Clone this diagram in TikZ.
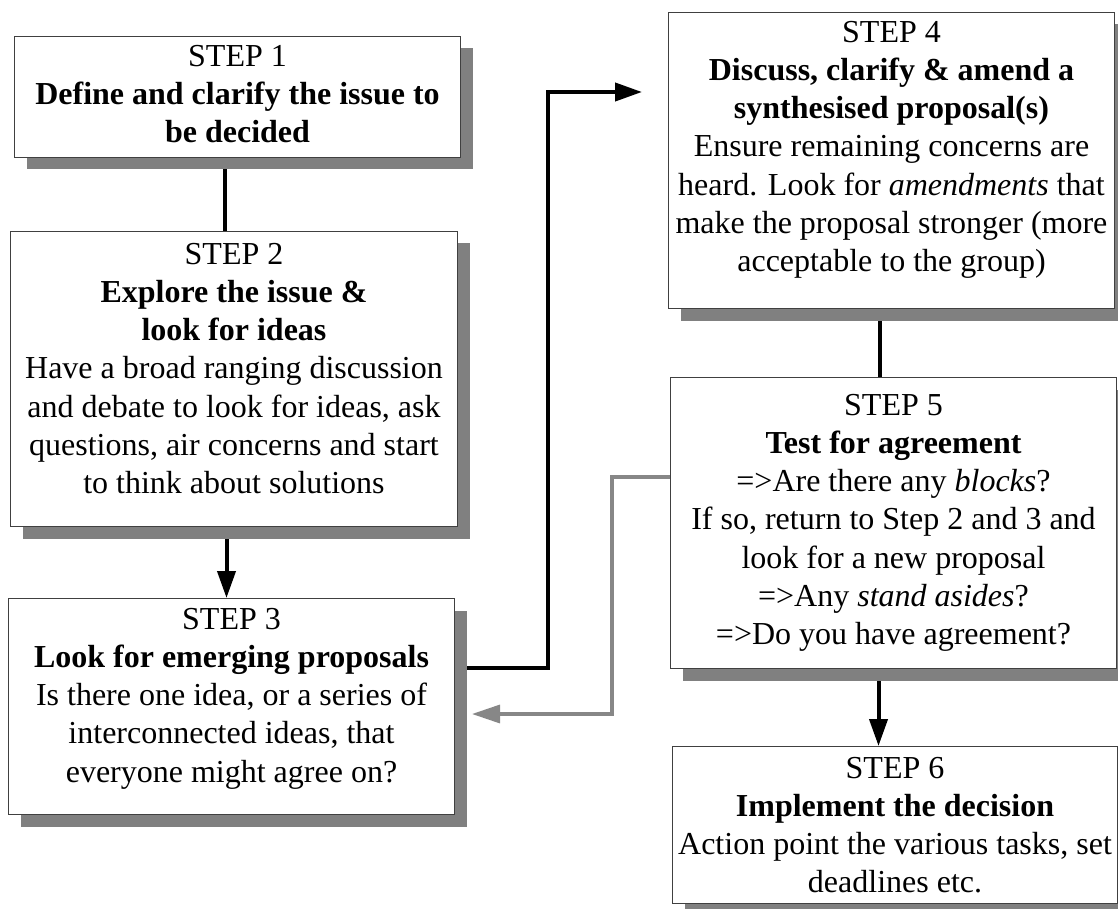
\documentclass[tikz,border=0pt]{standalone}
\usepackage{fontspec}
\setmainfont{Liberation Serif}
\usetikzlibrary{arrows.meta,shadows,backgrounds}
\definecolor{shadegray}{HTML}{808080}
\definecolor{backgray}{HTML}{878787}
\tikzset{
  box/.style={draw=black!75, line width=1pt, fill=white, anchor=north west, inner sep=0pt,
    drop shadow={shadow xshift=12pt, shadow yshift=-12pt, fill=shadegray, opacity=1}},
  txt/.style={anchor=north, inner sep=0pt, align=center, font=\fontsize{32}{38.2}\selectfont},
  link/.style={line width=4pt, draw=black},
  arr/.style={link, -{Triangle[length=27pt,width=18pt]}},
  back/.style={line width=3.3pt, draw=backgray, -{Triangle[length=28pt,width=18pt,fill=backgray]}},
}
\begin{document}
\begin{tikzpicture}[x=1pt,y=-1pt]
\useasboundingbox (0,0) rectangle (1118,909);

% boxes
\node[box, minimum width=446pt, minimum height=121pt] (s1) at (14,36) {};
\node[box, minimum width=447pt, minimum height=295pt] (s2) at (10,231) {};
\node[box, minimum width=446pt, minimum height=216pt] (s3) at (8,598) {};
\node[box, minimum width=446pt, minimum height=296pt] (s4) at (668,12) {};
\node[box, minimum width=446pt, minimum height=291pt] (s5) at (670,377) {};
\node[box, minimum width=445pt, minimum height=157pt] (s6) at (672,746) {};

% texts
\node[txt] (t1) at ([yshift=-9pt]s1.north) {STEP 1\\
  \textbf{Define and clarify the issue to}\\
  \textbf{be decided}};
\node[txt] (t2) at ([yshift=-12pt]s2.north) {STEP 2\\
  \textbf{Explore the issue \&}\\
  \textbf{look for ideas}\\
  Have a broad ranging discussion\\
  and debate to look for ideas, ask\\
  questions, air concerns and start\\
  to think about solutions};
\node[txt] (t3) at ([yshift=-10pt]s3.north) {STEP 3\\
  \textbf{Look for emerging proposals}\\
  Is there one idea, or a series of\\
  interconnected ideas, that\\
  everyone might agree on?};
\node[txt] (t4) at ([yshift=-9pt]s4.north) {STEP 4\\
  \textbf{Discuss, clarify \& amend a}\\
  \textbf{synthesised proposal(s)}\\
  Ensure remaining concerns are\\
  heard. Look for \textit{amendments} that\\
  make the proposal stronger (more\\
  acceptable to the group)};
\node[txt] (t5) at ([yshift=-17pt]s5.north) {STEP 5\\
  \textbf{Test for agreement}\\
  =>Are there any \textit{blocks}?\\
  If so, return to Step 2 and 3 and\\
  look for a new proposal\\
  =>Any \textit{stand asides}?\\
  =>Do you have agreement?};
\node[txt] (t6) at ([yshift=-11pt]s6.north) {STEP 6\\
  \textbf{Implement the decision}\\
  Action point the various tasks, set\\
  deadlines etc.};

% bend points
\coordinate (k1) at (548,668);
\coordinate (k2) at (548,92);
\coordinate (g1) at (612,477);
\coordinate (g2) at (612,714);

\begin{scope}[on background layer]
\draw[link] ([xshift=-13pt]s1.south) -- ([xshift=-13pt]s1.south |- s2.north);
\draw[arr] ([xshift=-7.5pt]s2.south) -- ([xshift=-7.5pt]s2.south |- s3.north);
\draw[link] ([xshift=-12pt]s4.south) -- ([xshift=-12pt]s4.south |- s5.north);
\draw[arr] ([xshift=-15pt]s5.south) -- ([xshift=-15pt]s5.south |- s6.north);
\draw[arr] (s3.east |- k1) -- (k1) -- (k2) -- ([xshift=-26pt]s4.west |- k2);
\draw[back] (s5.west |- g1) -- (g1) -- (g2) -- ([xshift=17pt]s3.east |- g2);
\end{scope}
\end{tikzpicture}
\end{document}
